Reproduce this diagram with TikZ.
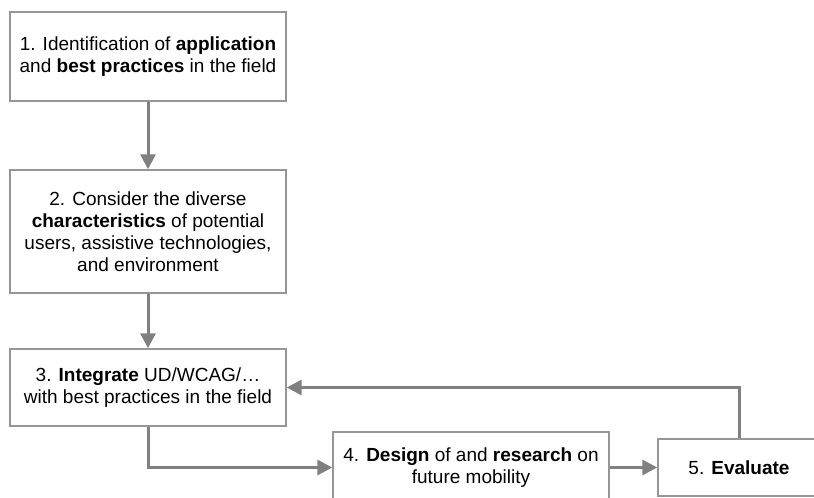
\documentclass[tikz,border=0pt]{standalone}
\usepackage{fontspec}
\setmainfont{Liberation Sans}
\usetikzlibrary{arrows.meta}
\definecolor{boxgray}{RGB}{150,150,150}
\definecolor{arrowgray}{RGB}{128,128,128}
\begin{document}
\begin{tikzpicture}[x=1pt,y=-1pt,
  stepbox/.style={draw=boxgray, line width=1.4pt, fill=white, align=center,
    font=\fontsize{19}{22}\selectfont, inner sep=0pt, minimum width=276pt},
  flow/.style={draw=arrowgray, line width=3pt,
    -{Triangle[length=15pt,width=15pt]}}]
  \clip (0,0) rectangle (814,498);
  \fill[white] (0,0) rectangle (814,498);

  \node[stepbox, minimum height=89pt] (s1) at (148,56.5)
    {1. Identification of \textbf{application}\\and \textbf{best practices} in the field};
  \node[stepbox, minimum height=123pt] (s2) at (148,231.5)
    {2. Consider the diverse\\\textbf{characteristics} of potential\\users, assistive technologies,\\and environment};
  \node[stepbox, minimum height=77pt] (s3) at (148,387.5)
    {3. \textbf{Integrate} UD/WCAG/\dots\\with best practices in the field};
  \node[stepbox, minimum height=71pt] (s4) at (471,467.5)
    {4. \textbf{Design} of and \textbf{research} on\\future mobility};
  \node[stepbox, minimum width=162pt, minimum height=57pt] (s5) at (739,467.5)
    {5. \textbf{Evaluate}};

  \draw[flow] (s1.south) -- (s2.north);
  \draw[flow] (s2.south) -- (s3.north);
  \draw[flow] (s3.south) |- (s4.west);
  \draw[flow] (s4.east) -- (s5.west);
  \draw[flow] (s5.north) |- (s3.east);
\end{tikzpicture}
\end{document}
